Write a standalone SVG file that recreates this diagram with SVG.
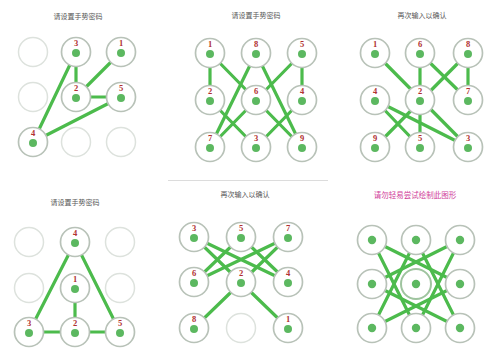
<svg xmlns="http://www.w3.org/2000/svg" width="503" height="351" viewBox="0 0 503 351">
<style>
.bg{fill:#ffffff}
.title{font-family:"Noto Sans CJK SC","Liberation Sans",sans-serif;font-size:7px;fill:#555;text-anchor:middle}
.title2{font-family:"Noto Sans CJK SC","Liberation Sans",sans-serif;font-size:7.5px;fill:#d0409a;text-anchor:middle}
.ring{fill:#fff;stroke:#b8c2b8;stroke-width:1.7}
.off{fill:#fff;stroke:#dde2dd;stroke-width:1.5}
.dot{fill:#5cb860}
.num{font-family:"Liberation Serif",serif;font-size:8.5px;font-weight:bold;fill:#b03030;text-anchor:middle}
.ln{stroke:#4cbb4c;stroke-width:3.2;stroke-linecap:round;fill:none}
.sep{stroke:#dcdcdc;stroke-width:1}
</style>
<rect class="bg" x="0" y="0" width="503" height="351"/>
<line class="sep" x1="168" y1="180.5" x2="328" y2="180.5"/>
<g id="titles">
<text class="title" x="78" y="19">请设置手势密码</text>
<text class="title" x="256" y="18">请设置手势密码</text>
<text class="title" x="422" y="18">再次输入以确认</text>
<text class="title" x="75" y="205">请设置手势密码</text>
<text class="title" x="245" y="197">再次输入以确认</text>
<text class="title2" x="415" y="198">请勿轻易尝试绘制此图形</text>
</g>
<g id="connectors">
<!-- panel 1 -->
<line class="ln" x1="121" y1="52" x2="76" y2="97"/>
<line class="ln" x1="76" y1="97" x2="76" y2="52"/>
<line class="ln" x1="76" y1="52" x2="33" y2="142"/>
<line class="ln" x1="33" y1="142" x2="121" y2="97"/>
<line class="ln" x1="76" y1="97" x2="121" y2="97"/>
<!-- panel 2 -->
<line class="ln" x1="210" y1="53" x2="210" y2="100"/>
<line class="ln" x1="210" y1="100" x2="256" y2="147"/>
<line class="ln" x1="256" y1="147" x2="302" y2="100"/>
<line class="ln" x1="302" y1="100" x2="302" y2="53"/>
<line class="ln" x1="210" y1="53" x2="302" y2="147"/>
<line class="ln" x1="302" y1="53" x2="210" y2="147"/>
<line class="ln" x1="256" y1="53" x2="210" y2="147"/>
<line class="ln" x1="256" y1="53" x2="302" y2="147"/>
<!-- panel 3 -->
<line class="ln" x1="375" y1="53" x2="468" y2="147"/>
<line class="ln" x1="468" y1="147" x2="375" y2="100"/>
<line class="ln" x1="375" y1="100" x2="420" y2="147"/>
<line class="ln" x1="420" y1="147" x2="420" y2="53"/>
<line class="ln" x1="420" y1="53" x2="468" y2="100"/>
<line class="ln" x1="468" y1="100" x2="468" y2="53"/>
<line class="ln" x1="468" y1="53" x2="375" y2="147"/>
<!-- panel 4 -->
<line class="ln" x1="75" y1="288" x2="75" y2="332"/>
<line class="ln" x1="29" y1="332" x2="120" y2="332"/>
<line class="ln" x1="29" y1="332" x2="75" y2="242"/>
<line class="ln" x1="75" y1="242" x2="120" y2="332"/>
<!-- panel 5 -->
<line class="ln" x1="288" y1="328" x2="194" y2="237"/>
<line class="ln" x1="194" y1="237" x2="288" y2="282"/>
<line class="ln" x1="288" y1="282" x2="241" y2="237"/>
<line class="ln" x1="241" y1="237" x2="194" y2="282"/>
<line class="ln" x1="194" y1="282" x2="288" y2="237"/>
<line class="ln" x1="288" y1="237" x2="194" y2="328"/>
<!-- panel 6 -->
<line class="ln" x1="372" y1="240" x2="460" y2="284"/>
<line class="ln" x1="460" y1="284" x2="372" y2="328"/>
<line class="ln" x1="372" y1="328" x2="416" y2="240"/>
<line class="ln" x1="416" y1="240" x2="460" y2="328"/>
<line class="ln" x1="460" y1="328" x2="372" y2="284"/>
<line class="ln" x1="372" y1="284" x2="460" y2="240"/>
<line class="ln" x1="460" y1="240" x2="416" y2="328"/>
<line class="ln" x1="416" y1="328" x2="372" y2="240"/>
</g>
<!-- panel 1 nodes -->
<g id="p1-00"><circle class="off" cx="33" cy="52" r="14.5"/></g>
<g id="p1-01"><circle class="ring" cx="76" cy="52" r="14.5"/><circle class="dot" cx="76" cy="53" r="4"/><text class="num" x="76" y="46">3</text></g>
<g id="p1-02"><circle class="ring" cx="121" cy="52" r="14.5"/><circle class="dot" cx="121" cy="53" r="4"/><text class="num" x="121" y="46">1</text></g>
<g id="p1-10"><circle class="off" cx="33" cy="97" r="14.5"/></g>
<g id="p1-11"><circle class="ring" cx="76" cy="97" r="14.5"/><circle class="dot" cx="76" cy="98" r="4"/><text class="num" x="76" y="91">2</text></g>
<g id="p1-12"><circle class="ring" cx="121" cy="97" r="14.5"/><circle class="dot" cx="121" cy="98" r="4"/><text class="num" x="121" y="91">5</text></g>
<g id="p1-20"><circle class="ring" cx="33" cy="142" r="14.5"/><circle class="dot" cx="33" cy="143" r="4"/><text class="num" x="33" y="136">4</text></g>
<g id="p1-21"><circle class="off" cx="76" cy="142" r="14.5"/></g>
<g id="p1-22"><circle class="off" cx="121" cy="142" r="14.5"/></g>
<!-- panel 2 nodes -->
<g id="p2-00"><circle class="ring" cx="210" cy="53" r="14.5"/><circle class="dot" cx="210" cy="54" r="4"/><text class="num" x="210" y="47">1</text></g>
<g id="p2-01"><circle class="ring" cx="256" cy="53" r="14.5"/><circle class="dot" cx="256" cy="54" r="4"/><text class="num" x="256" y="47">8</text></g>
<g id="p2-02"><circle class="ring" cx="302" cy="53" r="14.5"/><circle class="dot" cx="302" cy="54" r="4"/><text class="num" x="302" y="47">5</text></g>
<g id="p2-10"><circle class="ring" cx="210" cy="100" r="14.5"/><circle class="dot" cx="210" cy="101" r="4"/><text class="num" x="210" y="94">2</text></g>
<g id="p2-11"><circle class="ring" cx="256" cy="100" r="14.5"/><circle class="dot" cx="256" cy="101" r="4"/><text class="num" x="256" y="94">6</text></g>
<g id="p2-12"><circle class="ring" cx="302" cy="100" r="14.5"/><circle class="dot" cx="302" cy="101" r="4"/><text class="num" x="302" y="94">4</text></g>
<g id="p2-20"><circle class="ring" cx="210" cy="147" r="14.5"/><circle class="dot" cx="210" cy="148" r="4"/><text class="num" x="210" y="141">7</text></g>
<g id="p2-21"><circle class="ring" cx="256" cy="147" r="14.5"/><circle class="dot" cx="256" cy="148" r="4"/><text class="num" x="256" y="141">3</text></g>
<g id="p2-22"><circle class="ring" cx="302" cy="147" r="14.5"/><circle class="dot" cx="302" cy="148" r="4"/><text class="num" x="302" y="141">9</text></g>
<!-- panel 3 nodes -->
<g id="p3-00"><circle class="ring" cx="375" cy="53" r="14.5"/><circle class="dot" cx="375" cy="54" r="4"/><text class="num" x="375" y="47">1</text></g>
<g id="p3-01"><circle class="ring" cx="420" cy="53" r="14.5"/><circle class="dot" cx="420" cy="54" r="4"/><text class="num" x="420" y="47">6</text></g>
<g id="p3-02"><circle class="ring" cx="468" cy="53" r="14.5"/><circle class="dot" cx="468" cy="54" r="4"/><text class="num" x="468" y="47">8</text></g>
<g id="p3-10"><circle class="ring" cx="375" cy="100" r="14.5"/><circle class="dot" cx="375" cy="101" r="4"/><text class="num" x="375" y="94">4</text></g>
<g id="p3-11"><circle class="ring" cx="420" cy="100" r="14.5"/><circle class="dot" cx="420" cy="101" r="4"/><text class="num" x="420" y="94">2</text></g>
<g id="p3-12"><circle class="ring" cx="468" cy="100" r="14.5"/><circle class="dot" cx="468" cy="101" r="4"/><text class="num" x="468" y="94">7</text></g>
<g id="p3-20"><circle class="ring" cx="375" cy="147" r="14.5"/><circle class="dot" cx="375" cy="148" r="4"/><text class="num" x="375" y="141">9</text></g>
<g id="p3-21"><circle class="ring" cx="420" cy="147" r="14.5"/><circle class="dot" cx="420" cy="148" r="4"/><text class="num" x="420" y="141">5</text></g>
<g id="p3-22"><circle class="ring" cx="468" cy="147" r="14.5"/><circle class="dot" cx="468" cy="148" r="4"/><text class="num" x="468" y="141">3</text></g>
<!-- panel 4 nodes -->
<g id="p4-00"><circle class="off" cx="29" cy="242" r="14.5"/></g>
<g id="p4-01"><circle class="ring" cx="75" cy="242" r="14.5"/><circle class="dot" cx="75" cy="243" r="4"/><text class="num" x="75" y="236">4</text></g>
<g id="p4-02"><circle class="off" cx="120" cy="242" r="14.5"/></g>
<g id="p4-10"><circle class="off" cx="29" cy="288" r="14.5"/></g>
<g id="p4-11"><circle class="ring" cx="75" cy="288" r="14.5"/><circle class="dot" cx="75" cy="289" r="4"/><text class="num" x="75" y="282">1</text></g>
<g id="p4-12"><circle class="off" cx="120" cy="288" r="14.5"/></g>
<g id="p4-20"><circle class="ring" cx="29" cy="332" r="14.5"/><circle class="dot" cx="29" cy="333" r="4"/><text class="num" x="29" y="326">3</text></g>
<g id="p4-21"><circle class="ring" cx="75" cy="332" r="14.5"/><circle class="dot" cx="75" cy="333" r="4"/><text class="num" x="75" y="326">2</text></g>
<g id="p4-22"><circle class="ring" cx="120" cy="332" r="14.5"/><circle class="dot" cx="120" cy="333" r="4"/><text class="num" x="120" y="326">5</text></g>
<!-- panel 5 nodes -->
<g id="p5-00"><circle class="ring" cx="194" cy="237" r="14.5"/><circle class="dot" cx="194" cy="238" r="4"/><text class="num" x="194" y="231">3</text></g>
<g id="p5-01"><circle class="ring" cx="241" cy="237" r="14.5"/><circle class="dot" cx="241" cy="238" r="4"/><text class="num" x="241" y="231">5</text></g>
<g id="p5-02"><circle class="ring" cx="288" cy="237" r="14.5"/><circle class="dot" cx="288" cy="238" r="4"/><text class="num" x="288" y="231">7</text></g>
<g id="p5-10"><circle class="ring" cx="194" cy="282" r="14.5"/><circle class="dot" cx="194" cy="283" r="4"/><text class="num" x="194" y="276">6</text></g>
<g id="p5-11"><circle class="ring" cx="241" cy="282" r="14.5"/><circle class="dot" cx="241" cy="283" r="4"/><text class="num" x="241" y="276">2</text></g>
<g id="p5-12"><circle class="ring" cx="288" cy="282" r="14.5"/><circle class="dot" cx="288" cy="283" r="4"/><text class="num" x="288" y="276">4</text></g>
<g id="p5-20"><circle class="ring" cx="194" cy="328" r="14.5"/><circle class="dot" cx="194" cy="329" r="4"/><text class="num" x="194" y="322">8</text></g>
<g id="p5-21"><circle class="off" cx="241" cy="328" r="14.5"/></g>
<g id="p5-22"><circle class="ring" cx="288" cy="328" r="14.5"/><circle class="dot" cx="288" cy="329" r="4"/><text class="num" x="288" y="322">1</text></g>
<!-- panel 6 nodes -->
<g id="p6-00"><circle class="ring" cx="372" cy="240" r="14.5"/><circle class="dot" cx="372" cy="240" r="4.2"/></g>
<g id="p6-01"><circle class="ring" cx="416" cy="240" r="14.5"/><circle class="dot" cx="416" cy="240" r="4.2"/></g>
<g id="p6-02"><circle class="ring" cx="460" cy="240" r="14.5"/><circle class="dot" cx="460" cy="240" r="4.2"/></g>
<g id="p6-10"><circle class="ring" cx="372" cy="284" r="14.5"/><circle class="dot" cx="372" cy="284" r="4.2"/></g>
<g id="p6-11"><circle class="ring" cx="416" cy="284" r="15" style="stroke:#9fc49f;stroke-width:2"/><circle class="dot" cx="416" cy="284" r="4.2"/></g>
<g id="p6-12"><circle class="ring" cx="460" cy="284" r="14.5"/><circle class="dot" cx="460" cy="284" r="4.2"/></g>
<g id="p6-20"><circle class="ring" cx="372" cy="328" r="14.5"/><circle class="dot" cx="372" cy="328" r="4.2"/></g>
<g id="p6-21"><circle class="ring" cx="416" cy="328" r="14.5"/><circle class="dot" cx="416" cy="328" r="4.2"/></g>
<g id="p6-22"><circle class="ring" cx="460" cy="328" r="14.5"/><circle class="dot" cx="460" cy="328" r="4.2"/></g>
</svg>
